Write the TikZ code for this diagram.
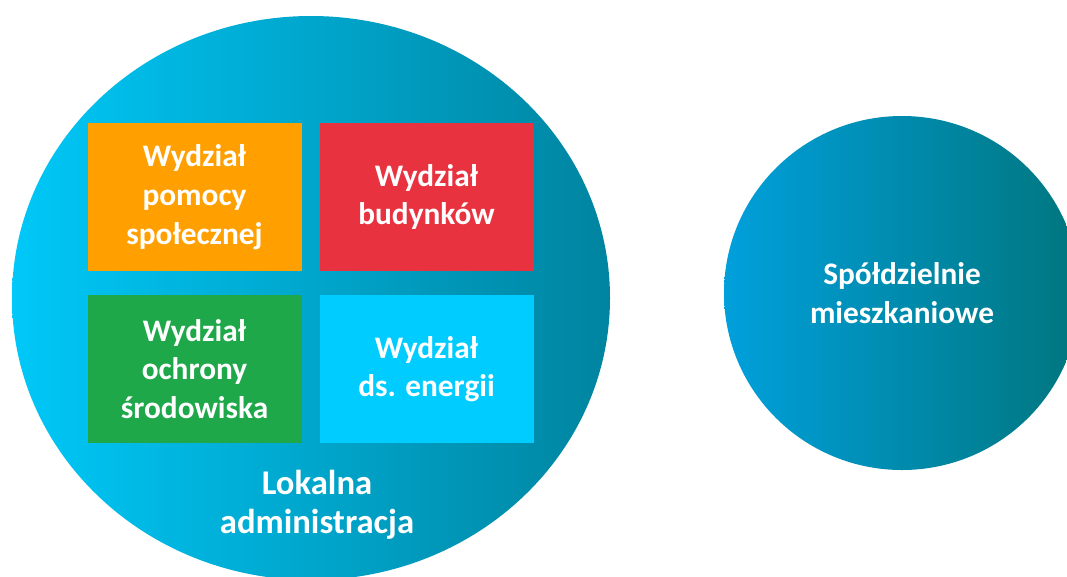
\documentclass[tikz,border=0pt]{standalone}
\usepackage{fontspec}
\setmainfont{Carlito}
\usetikzlibrary{shapes.geometric}

\definecolor{admleft}{HTML}{00C8F8}
\definecolor{admright}{HTML}{0084A0}
\definecolor{coopleft}{HTML}{00A0DC}
\definecolor{coopright}{HTML}{00767E}
\definecolor{deptorange}{HTML}{FFA000}
\definecolor{deptred}{HTML}{E8323F}
\definecolor{deptgreen}{HTML}{1FA84A}
\definecolor{deptblue}{HTML}{00CCFF}

\tikzset{
  blob/.style={ellipse, inner sep=0pt, outer sep=0pt, align=center,
               text=white, font=\bfseries\fontsize{23.5}{29}\selectfont},
  dept/.style={rectangle, minimum width=160.5pt, minimum height=111pt,
               inner sep=0pt, align=center, text=white,
               font=\bfseries\fontsize{23.5}{29}\selectfont}
}

\begin{document}
\begin{tikzpicture}[x=0.75pt,y=-0.75pt]
\useasboundingbox (0,0) rectangle (1067,576);
\clip (0,0) rectangle (1067,576);

% the two bodies
\node[blob, minimum width=448.5pt, minimum height=423pt,
      left color=admleft, right color=admright] (admin) at (311,298) {};
\node[blob, minimum width=267pt, minimum height=265.5pt,
      left color=coopleft, right color=coopright] (coop) at (902,293)
      {Spółdzielnie\\mieszkaniowe};

% departments
\node[dept, fill=deptorange] (social) at (194.5,197) {Wydział\\pomocy\\społecznej};
\node[dept, fill=deptred] (build) at (426.5,197) {Wydział\\budynków};
\node[dept, fill=deptgreen] (env) at (194.5,369) {Wydział\\ochrony\\środowiska};
\node[dept, fill=deptblue] (energy) at (426.5,369) {Wydział\\ds. energii};

\node[blob, font=\bfseries\fontsize{26}{29}\selectfont] (adminlabel) at (317,505)
      {Lokalna\\administracja};
\end{tikzpicture}
\end{document}
